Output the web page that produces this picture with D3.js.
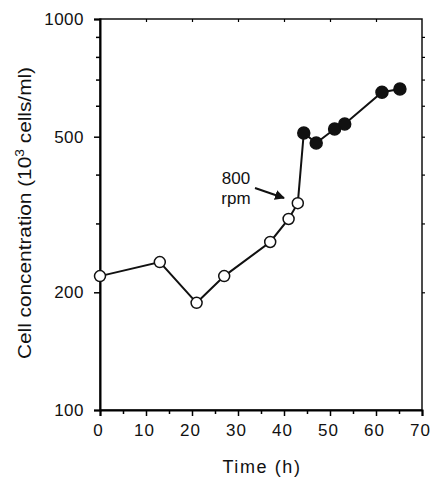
<!DOCTYPE html>
<html>
<head>
<meta charset="utf-8">
<script src="https://cdn.jsdelivr.net/npm/d3@7"></script>
<style>
  body { margin: 0; background: #fff; }
  text { font-family: "Liberation Sans", Arial, sans-serif; fill: #111; font-weight: normal; }
</style>
</head>
<body>
<div id="chartDiv"></div>
<script>
// data
var hours      = [0, 13, 21, 27, 37, 41, 43, 44.3, 47, 51, 53.2, 61.3, 65.2];
var cells      = [220, 239, 188, 220, 269, 308, 338, 511, 482, 523, 539, 650, 662];
var filled     = [false, false, false, false, false, false, false, true, true, true, true, true, true];
var xTicks     = [0, 10, 20, 30, 40, 50, 60, 70];
var xMinor     = [5, 15, 25, 35, 45, 55, 65];
var yTicks     = [100, 200, 500, 1000];
var yMinor     = [300, 400, 600, 700, 800, 900];

var svgWidth = 433;
var svgHeight = 483;
var margin = { top: 19, right: 11, bottom: 73, left: 100 };

var svg = d3.select('#chartDiv')
            .append('svg')
            .attr('width', svgWidth)
            .attr('height', svgHeight);

var x = d3.scaleLinear().domain([0, 70]).range([margin.left, svgWidth - margin.right]);
var y = d3.scaleLog().domain([100, 1000]).range([svgHeight - margin.bottom, margin.top]);

// frame
svg.append('rect')
   .attr('x', x(0)).attr('y', y(1000))
   .attr('width', x(70) - x(0)).attr('height', y(100) - y(1000))
   .attr('fill', 'none').attr('stroke', '#111').attr('stroke-width', 1.5);

// bottom axis
var xAxis = d3.axisBottom(x).tickValues(xTicks).tickSize(6).tickPadding(8).tickFormat(d3.format('d'));
var gx = svg.append('g').attr('transform', 'translate(0,' + y(100) + ')').call(xAxis);
gx.select('.domain').attr('stroke-width', 2);
gx.selectAll('.tick line').attr('stroke-width', 1.5);
gx.selectAll('.tick text').attr('font-size', 17).attr('dx', -2).attr('letter-spacing', 1);
svg.append('g').attr('transform', 'translate(0,' + y(100) + ')')
   .call(d3.axisBottom(x).tickValues(xMinor).tickSize(4).tickFormat(''))
   .call(function(g) { g.select('.domain').remove(); g.selectAll('line').attr('stroke-width', 1.5); });

// top mirrored ticks
svg.append('g').attr('transform', 'translate(0,' + y(1000) + ')')
   .call(d3.axisBottom(x).tickValues(xTicks.slice(1, -1)).tickSize(3).tickFormat(''))
   .call(function(g) { g.select('.domain').remove(); g.selectAll('line').attr('stroke-width', 1.2); });

// left axis
var yAxis = d3.axisLeft(y).tickValues(yTicks).tickSize(6).tickPadding(10).tickFormat(d3.format('d'));
var gy = svg.append('g').attr('transform', 'translate(' + x(0) + ',0)').call(yAxis);
gy.select('.domain').attr('stroke-width', 2);
gy.selectAll('.tick line').attr('stroke-width', 1.5);
gy.selectAll('.tick text').attr('font-size', 17).attr('letter-spacing', 0.5);
svg.append('g').attr('transform', 'translate(' + x(0) + ',0)')
   .call(d3.axisLeft(y).tickValues(yMinor).tickSize(4).tickFormat(''))
   .call(function(g) { g.select('.domain').remove(); g.selectAll('line').attr('stroke-width', 1.5); });

// right mirrored ticks
svg.append('g').attr('transform', 'translate(' + x(70) + ',0)')
   .call(d3.axisRight(y).tickValues(yTicks.slice(1, -1).concat(yMinor)).tickSize(3).tickFormat(''))
   .call(function(g) { g.select('.domain').remove(); g.selectAll('line').attr('stroke-width', 1.2); });

// axis titles
svg.append('text')
   .attr('x', 262).attr('y', 473)
   .attr('text-anchor', 'middle')
   .attr('font-size', 18)
   .attr('letter-spacing', 1.6)
   .text('Time (h)');

var yTitle = svg.append('text')
   .attr('transform', 'translate(31,' + 213 + ') rotate(-90)')
   .attr('text-anchor', 'middle')
   .attr('font-size', 18)
   .attr('textLength', 292).attr('lengthAdjust', 'spacingAndGlyphs');
yTitle.append('tspan').text('Cell concentration (10');
yTitle.append('tspan').attr('font-size', 12).attr('dy', -7).text('3');
yTitle.append('tspan').attr('dy', 7).text(' cells/ml)');

// line
var points = hours.map(function(h, i) { return { h: h, c: cells[i], f: filled[i] }; });
var line = d3.line().x(function(d) { return x(d.h); }).y(function(d) { return y(d.c); });
svg.append('path')
   .datum(points)
   .attr('d', line)
   .attr('fill', 'none')
   .attr('stroke', '#111')
   .attr('stroke-width', 2);

svg.selectAll('.pt')
   .data(points)
   .enter()
   .append('circle')
   .attr('class', 'pt')
   .attr('cx', function(d) { return x(d.h); })
   .attr('cy', function(d) { return y(d.c); })
   .attr('r', function(d) { return d.f ? 6 : 5.5; })
   .attr('fill', function(d) { return d.f ? '#111' : '#fff'; })
   .attr('stroke', '#111')
   .attr('stroke-width', 1.5);

// annotation
svg.append('defs').append('marker')
   .attr('id', 'arrow').attr('viewBox', '0 0 10 10')
   .attr('refX', 9).attr('refY', 5)
   .attr('markerWidth', 5).attr('markerHeight', 5)
   .attr('orient', 'auto')
   .append('path').attr('d', 'M0,0 L10,5 L0,10 z').attr('fill', '#111');

svg.append('text').attr('x', 236).attr('y', 184).attr('text-anchor', 'middle').attr('font-size', 17).text('800');
svg.append('text').attr('x', 236).attr('y', 204).attr('text-anchor', 'middle').attr('font-size', 17).text('rpm');
svg.append('line')
   .attr('x1', 255).attr('y1', 188)
   .attr('x2', 284).attr('y2', 198)
   .attr('stroke', '#111').attr('stroke-width', 2)
   .attr('marker-end', 'url(#arrow)');
</script>
</body>
</html>
